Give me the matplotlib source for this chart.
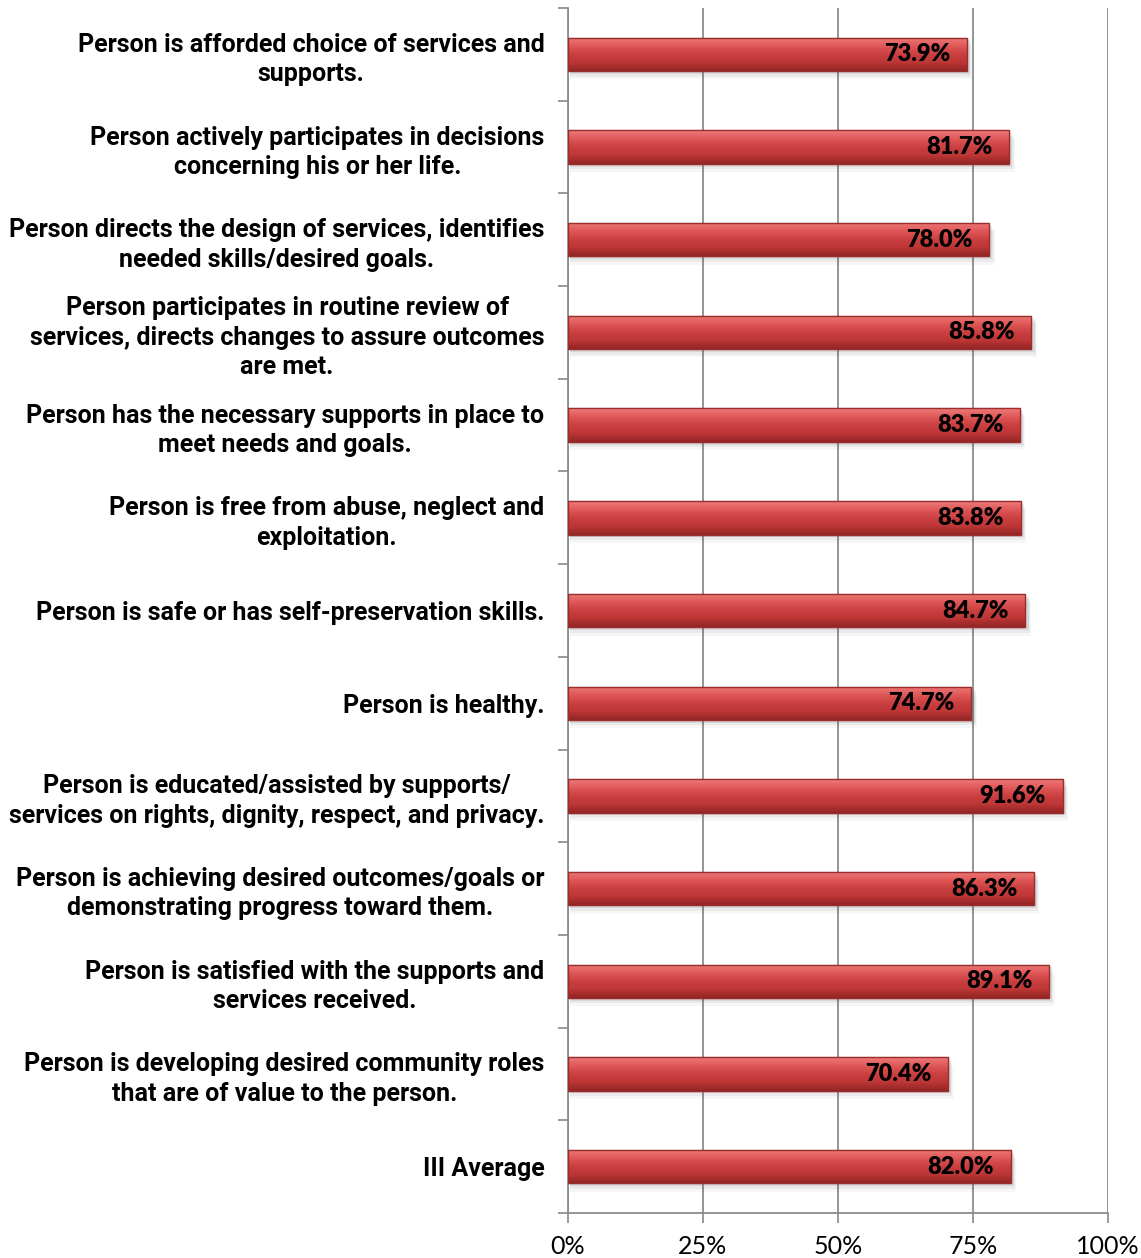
import numpy as np
import matplotlib.pyplot as plt
from matplotlib.colors import LinearSegmentedColormap
from matplotlib.patches import Rectangle

categories = [
    "Person is afforded choice of services and\nsupports.",
    "Person actively participates in decisions\nconcerning his or her life.",
    "Person directs the design of services, identifies\nneeded skills/desired goals.",
    "Person participates in routine review of\nservices, directs changes to assure outcomes\nare met.",
    "Person has the necessary supports in place to\nmeet needs and goals.",
    "Person is free from abuse, neglect and\nexploitation.",
    "Person is safe or has self-preservation skills.",
    "Person is healthy.",
    "Person is educated/assisted by supports/\nservices on rights, dignity, respect, and privacy.",
    "Person is achieving desired outcomes/goals or\ndemonstrating progress toward them.",
    "Person is satisfied with the supports and\nservices received.",
    "Person is developing desired community roles\nthat are of value to the person.",
    "III Average",
]
values = [73.9, 81.7, 78.0, 85.8, 83.7, 83.8, 84.7, 74.7, 91.6, 86.3, 89.1, 70.4, 82.0]
xticks = [0, 25, 50, 75, 100]

fig = plt.figure(figsize=(11.41, 12.58), dpi=100)
ax = fig.add_axes([0.4978, 0.0358, 0.4733, 0.9578])

n = len(categories)
ypos = np.arange(n)
bar_h = 0.36

# vertical shading for the cylinder look
cyl = LinearSegmentedColormap.from_list(
    "cyl", ["#ee7c7c", "#e05858", "#cb4040", "#bd3636", "#922525"])
grad = np.linspace(0, 1, 64).reshape(-1, 1)

for y, v in zip(ypos, values):
    # soft shadow below the bar
    for k, a in enumerate([0.10, 0.07, 0.04]):
        ax.add_patch(Rectangle((0.3, y - bar_h / 2 + 0.03 + k * 0.03), v + 0.3 + k * 0.2, bar_h,
                               facecolor="#404040", alpha=a, edgecolor="none", zorder=2))
    bar = ax.barh(y, v, height=bar_h, color="#c0393b", edgecolor="#8a2a2a",
                  linewidth=0.8, zorder=3)[0]
    im = ax.imshow(grad, cmap=cyl, aspect="auto", zorder=4,
                   extent=(0, v, y + bar_h / 2, y - bar_h / 2), interpolation="bicubic")
    im.set_clip_path(bar)
    ax.add_patch(Rectangle((0, y - bar_h / 2), v, bar_h, facecolor="none",
                           edgecolor="#9b2d2d", linewidth=1.0, zorder=5))
    ax.annotate(f"{v:.1f}%", xy=(v, y), xytext=(-12, 0), textcoords="offset points",
                ha="right", va="center", fontsize=17, fontweight="heavy",
                family="Lato", color="black", zorder=6)

ax.set_xlim(0, 100)
ax.set_ylim(n - 0.5, -0.5)
ax.set_xticks(xticks)
ax.set_xticklabels([f"{t}%" for t in xticks], family="Lato", fontsize=18)
ax.set_yticks(ypos)
ax.set_yticklabels(categories, fontsize=18, fontweight="bold", family="Roboto",
                   ha="right", multialignment="center", linespacing=1.28)
ax.tick_params(axis="y", length=0, pad=17)
ax.set_yticks(np.arange(n + 1) - 0.5, minor=True)
ax.tick_params(axis="y", which="minor", length=7, color="#888888", width=1.2)
ax.tick_params(axis="x", length=7, color="#888888", width=1.2, pad=9)

ax.grid(axis="x", color="#8c8c8c", linewidth=1.3, zorder=1)
ax.set_axisbelow(True)
for s in ["top", "right"]:
    ax.spines[s].set_visible(False)
for s in ["left", "bottom"]:
    ax.spines[s].set_color("#8c8c8c")
    ax.spines[s].set_linewidth(1.3)

fig.savefig("out.png", dpi=100)
